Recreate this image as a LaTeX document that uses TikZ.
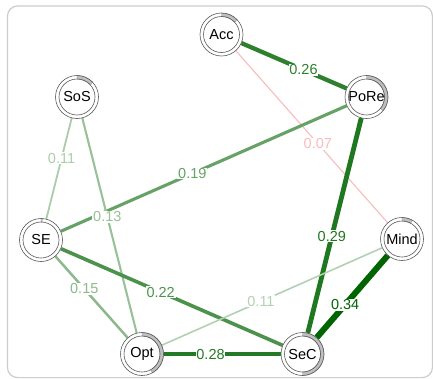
\documentclass[tikz,border=0pt]{standalone}
\usepackage{fontspec}
\setmainfont{Liberation Sans}
\usetikzlibrary{backgrounds}
\definecolor{posedge}{RGB}{0,100,0}
\definecolor{negedge}{RGB}{248,188,188}

\begin{document}
\begin{tikzpicture}[x=1pt, y=-1pt,
  var/.style={circle, fill=white, minimum size=43pt, inner sep=0pt, font=\fontsize{14.5}{15}\selectfont},
  ring/.style={draw=black!65, line width=0.6pt},
  pie/.style={fill=black!25, draw=black!40, line width=0.4pt},
  wlabel/.style={fill=white, inner sep=0.8pt, font=\fontsize{14.5}{15}\selectfont},
  frame/.style={draw=black!20, line width=1.2pt, rounded corners=10pt}]
\useasboundingbox (0,0) rectangle (433,378);
\draw[frame] (7.5,6) rectangle (432.4,377.6);
\node[var] (Acc) at (221.5,34.5) {Acc};
\node[var] (SoS) at (77,97) {SoS};
\node[var] (PoRe) at (366.5,97) {PoRe};
\node[var] (SE) at (41,240) {SE};
\node[var] (Mind) at (402,239) {Mind};
\node[var] (Opt) at (142,354) {Opt};
\node[var] (SeC) at (302.5,354) {SeC};
\foreach \n/\f in {Acc/0.13, SoS/0.13, PoRe/0.36, SE/0.01, Mind/0.08, Opt/0.42, SeC/0.5}{
  \filldraw[pie] ([shift={(90:21.5pt)}]\n.center) arc[start angle=90, delta angle=-360*\f, radius=21.5pt]
    -- ([shift={(90-360*\f:18pt)}]\n.center) arc[start angle=90-360*\f, delta angle=360*\f, radius=18pt] -- cycle;
  \draw[ring] (\n) circle[radius=21.5pt] (\n) circle[radius=18pt];
}
\foreach \a/\b/\w/\c/\p/\t in {
    Acc/PoRe/4.3/posedge!82!white/0.59/0.26,
    Acc/Mind/1.1/negedge/0.54/0.07,
    SE/PoRe/3.1/posedge!60!white/0.46/0.19,
    PoRe/SeC/4.8/posedge!88!white/0.55/0.29,
    SoS/SE/1.8/posedge!33!white/0.40/0.11,
    SoS/Opt/2.1/posedge!40!white/0.46/0.13,
    SE/Opt/2.5/posedge!45!white/0.40/0.15,
    SE/SeC/3.6/posedge!70!white/0.45/0.22,
    Opt/Mind/1.6/posedge!30!white/0.45/0.11,
    Opt/SeC/4.6/posedge!86!white/0.40/0.28,
    SeC/Mind/6/posedge/0.40/0.34}{
  \begin{pgfonlayer}{background}
    \draw[line width=\w pt, color=\c] (\a) -- (\b);
  \end{pgfonlayer}
  \path (\a) -- (\b) node[wlabel, text=\c, pos=\p] {\t};
}
\end{tikzpicture}
\end{document}
